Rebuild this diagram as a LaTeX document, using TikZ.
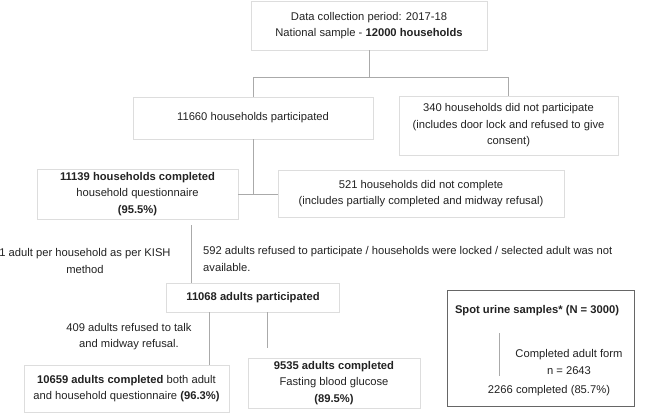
\documentclass[tikz,border=0pt]{standalone}
\usepackage{fontspec}
\setmainfont{Liberation Sans}
\definecolor{boxgray}{HTML}{DDDDDD}
\definecolor{linegray}{HTML}{AAAAAA}
\definecolor{darkgray}{HTML}{666666}
\definecolor{txt}{HTML}{222222}
\begin{document}
\begin{tikzpicture}[x=1pt,y=-1pt,
  font=\fontsize{11.2}{16.5}\selectfont, text=txt,
  bx/.style={draw=boxgray, line width=0.8pt, align=center, inner sep=0pt},
  plain/.style={align=center, inner sep=0pt},
  conn/.style={draw=linegray, line width=0.8pt}]
\useasboundingbox (0,0) rectangle (652,415);
% boxes
\node[bx, minimum width=236pt, minimum height=49pt] (top) at (369,25.5)
  {Data collection period: 2017-18\\National sample - \textbf{12000 households}};
\node[bx, minimum width=240pt, minimum height=42pt] (p11660) at (253,118)
  {11660 households participated};
\node[bx, minimum width=219pt, minimum height=59pt] (n340) at (508.5,125.5)
  {340 households did not participate\\(includes door lock and refused to give\\consent)};
\node[bx, minimum width=201pt, minimum height=50pt] (c11139) at (137.5,194)
  {\textbf{11139 households completed}\\household questionnaire\\\textbf{(95.5\%)}};
\node[bx, minimum width=286pt, minimum height=47pt] (n521) at (421,193.5)
  {521 households did not complete\\(includes partially completed and midway refusal)};
\node[plain] (kish) at (85,261)
  {1 adult per household as per KISH\\method};
\node[plain, align=left, anchor=west] (t592) at (203,259)
  {592 adults refused to participate / households were locked / selected adult was not\\available.};
\node[bx, minimum width=173pt, minimum height=29pt] (a11068) at (253,297.5)
  {\textbf{11068 adults participated}};
\node[plain] (t409) at (129,336.5)
  {409 adults refused to talk\\and midway refusal.};
\node[bx, minimum width=205pt, minimum height=47pt] (c10659) at (126.5,388.5)
  {\textbf{10659 adults completed} both adult\\and household questionnaire \textbf{(96.3\%)}};
\node[bx, minimum width=172pt, minimum height=50pt] (c9535) at (334,383)
  {\textbf{9535 adults completed}\\Fasting blood glucose\\\textbf{(89.5\%)}};
\node[draw=darkgray, line width=1pt, minimum width=187pt, minimum height=116pt, inner sep=0pt] (spot) at (540.5,348) {};
\node[plain] (spottitle) at (537,311) {\textbf{Spot urine samples* (N = 3000)}};
\node[plain] (adultform) at (569,362) {Completed adult form\\n = 2643};
\node[plain] (done) at (549,391) {2266 completed (85.7\%)};
% connectors
\coordinate (j1) at (369,77);
\draw[conn] (top.south) -- (j1);
\draw[conn] (p11660.north) -- (p11660.north |- j1) -- (n340.north |- j1) -- (n340.north);
\draw[conn] (p11660.south) -- (p11660.south |- c11139.east);
\draw[conn] (c11139.east) -- (n521.west |- c11139.east);
\coordinate (k1) at (191,225);
\draw[conn] (k1) -- (k1 |- a11068.north);
\coordinate (k2) at (209,312);
\draw[conn] (k2) -- (k2 |- c10659.north);
\coordinate (k3) at (267,312);
\coordinate (k3e) at (267,348);
\draw[conn] (k3) -- (k3e);
\coordinate (s1) at (499,333);
\coordinate (s2) at (499,376);
\draw[conn] (s1) -- (s2);
\end{tikzpicture}
\end{document}
